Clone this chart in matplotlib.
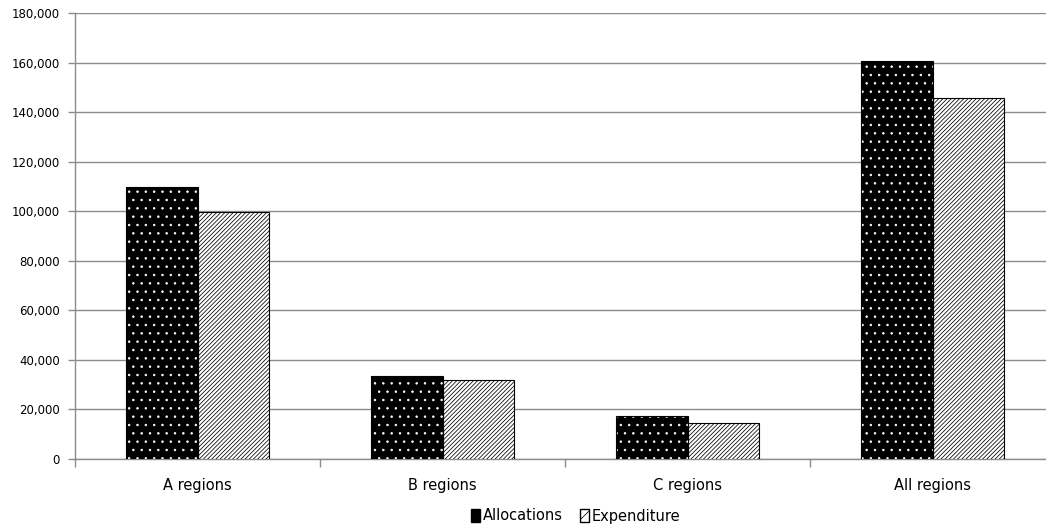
import matplotlib.pyplot as plt
import numpy as np
from matplotlib.patches import Patch
from matplotlib.ticker import FuncFormatter, MultipleLocator

plt.rcParams['font.family'] = ['DejaVu Sans']
plt.rcParams['hatch.linewidth'] = 0.55

categories = ['A regions', 'B regions', 'C regions', 'All regions']
allocations = [109700, 33600, 17500, 160500]
expenditure = [99700, 31800, 14700, 145600]

grid_col = '#8c8c8c'

fig = plt.figure(figsize=(10.46, 5.27), dpi=100)
ax = fig.add_axes([75/1046, 68/527, 980/1046, 446/527])

x = np.arange(len(categories))
w = 0.29

# black bars with white dots: hatch drawn in white, outline added on top
ax.bar(x - w/2, allocations, w, color='black', edgecolor='white',
       hatch='..', linewidth=0, zorder=3)
ax.bar(x - w/2, allocations, w, fill=False, edgecolor='black',
       linewidth=0.8, zorder=4)
ax.bar(x + w/2, expenditure, w, color='white', edgecolor='black',
       hatch='////////', linewidth=0.8, zorder=3)

ax.set_xlim(-0.5, 3.5)
ax.set_ylim(0, 180000)
ax.yaxis.set_major_locator(MultipleLocator(20000))
ax.yaxis.set_major_formatter(FuncFormatter(lambda v, p: f'{int(v):,}'))
ax.grid(axis='y', color=grid_col, linewidth=1.0, zorder=0)

ax.set_xticks(x)
ax.set_xticklabels(categories, fontsize=10.5)
ax.set_xticks(np.arange(-0.5, 3.6, 1.0), minor=True)
ax.tick_params(axis='x', which='major', length=0, pad=14)
ax.tick_params(axis='x', which='minor', length=6, color=grid_col, width=1)
ax.tick_params(axis='y', length=5, color=grid_col, width=1, pad=6,
               labelsize=8.5)

for s in ['top', 'right']:
    ax.spines[s].set_visible(False)
for s in ['left', 'bottom']:
    ax.spines[s].set_color(grid_col)
    ax.spines[s].set_linewidth(1.0)

handles = [Patch(facecolor='black', edgecolor='black', label='Allocations'),
           Patch(facecolor='white', edgecolor='black', hatch='/',
                 label='Expenditure')]
fig.legend(handles=handles, loc='center', bbox_to_anchor=(576/1046, 1 - 516/527),
           ncol=2, frameon=False, fontsize=10.5, handlelength=0.6,
           handleheight=0.9, handletextpad=0.2, columnspacing=1.2)

fig.savefig('out.png', dpi=100)
